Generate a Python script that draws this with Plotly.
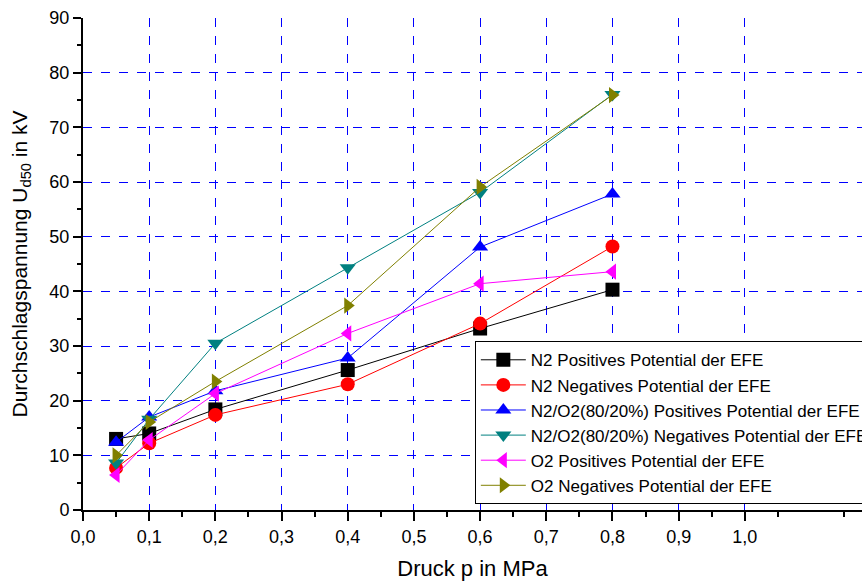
import plotly.graph_objects as go

pressure = [0.05, 0.1, 0.2, 0.4, 0.6, 0.8]

n2_pos = [13.0, 14.0, 18.4, 25.6, 33.2, 40.3]
n2_neg = [7.7, 12.2, 17.4, 23.0, 34.1, 48.2]
mix_pos = [12.4, 17.0, 21.8, 27.8, 48.1, 57.8]
mix_neg = [8.6, 16.6, 30.5, 44.3, 58.1, 76.0]
o2_pos = [6.4, 12.8, 21.3, 32.3, 41.4, 43.6]
o2_neg = [10.0, 16.1, 23.5, 37.4, 59.1, 75.9]

names = [
    "N2 Positives Potential der EFE",
    "N2 Negatives Potential der EFE",
    "N2/O2(80/20%) Positives Potential der EFE",
    "N2/O2(80/20%) Negatives Potential der EFE",
    "O2 Positives Potential der EFE",
    "O2 Negatives Potential der EFE",
]
series = [n2_pos, n2_neg, mix_pos, mix_neg, o2_pos, o2_neg]
colors = ["#000000", "#ff0000", "#0000ff", "#008080", "#ff00ff", "#808000"]
symbols = ["square", "circle", "triangle-up", "triangle-down", "triangle-left", "triangle-right"]

x_ticks = [0.0, 0.1, 0.2, 0.3, 0.4, 0.5, 0.6, 0.7, 0.8, 0.9, 1.0]
x_ticktext = ["0,0", "0,1", "0,2", "0,3", "0,4", "0,5", "0,6", "0,7", "0,8", "0,9", "1,0"]
y_ticks = [0, 10, 20, 30, 40, 50, 60, 70, 80, 90]

fig = go.Figure()
for i, (name, vals, c, s) in enumerate(zip(names, series, colors, symbols)):
    fig.add_trace(go.Scatter(
        x=pressure, y=vals, name=name, mode="lines+markers",
        line=dict(color=c, width=1),
        marker=dict(color=c, symbol=s, size=14, line=dict(width=0)),
        cliponaxis=False, legendgroup=f"g{i}",
    ))

font_family = "Liberation Sans, Arial, sans-serif"
fig.update_layout(
    width=862, height=581,
    margin=dict(l=83, r=0, t=18, b=71, autoexpand=False),
    plot_bgcolor="white", paper_bgcolor="white",
    font=dict(family=font_family, size=18, color="black"),
    showlegend=True,
    legend=dict(
        x=0.503, y=0.343, xanchor="left", yanchor="top",
        bordercolor="black", borderwidth=1, bgcolor="white",
        font=dict(size=17, family=font_family),
        tracegroupgap=0, itemwidth=45,
    ),
    xaxis=dict(
        range=[0, 1.177], tickvals=x_ticks, ticktext=x_ticktext,
        showline=True, linecolor="black", linewidth=2,
        ticks="outside", ticklen=9, tickwidth=2, tickcolor="black",
        showgrid=True, gridcolor="#0000ff", griddash="dash", gridwidth=1,
        zeroline=False, automargin=False,
        minor=dict(tickmode="linear", tick0=0.05, dtick=0.1, ticks="outside", ticklen=5, tickwidth=2, tickcolor="black", showgrid=False),
        title=dict(text="Druck p in MPa", font=dict(size=22), standoff=18),
    ),
    yaxis=dict(
        range=[0, 90], tickvals=y_ticks,
        showline=True, linecolor="black", linewidth=2,
        ticks="outside", ticklen=8, tickwidth=2, tickcolor="black",
        showgrid=True, gridcolor="#0000ff", griddash="dash", gridwidth=1,
        zeroline=False, automargin=False,
        minor=dict(tickmode="linear", tick0=5, dtick=10, ticks="outside", ticklen=4, tickwidth=2, tickcolor="black", showgrid=False),
        title=dict(text="Durchschlagspannung U<sub>d50</sub> in kV", font=dict(size=21), standoff=16),
    ),
)

fig.write_html(
    "out.html",
    config={"displayModeBar": False},
    post_script="document.body.style.margin='0';document.body.style.overflow='hidden';",
)
